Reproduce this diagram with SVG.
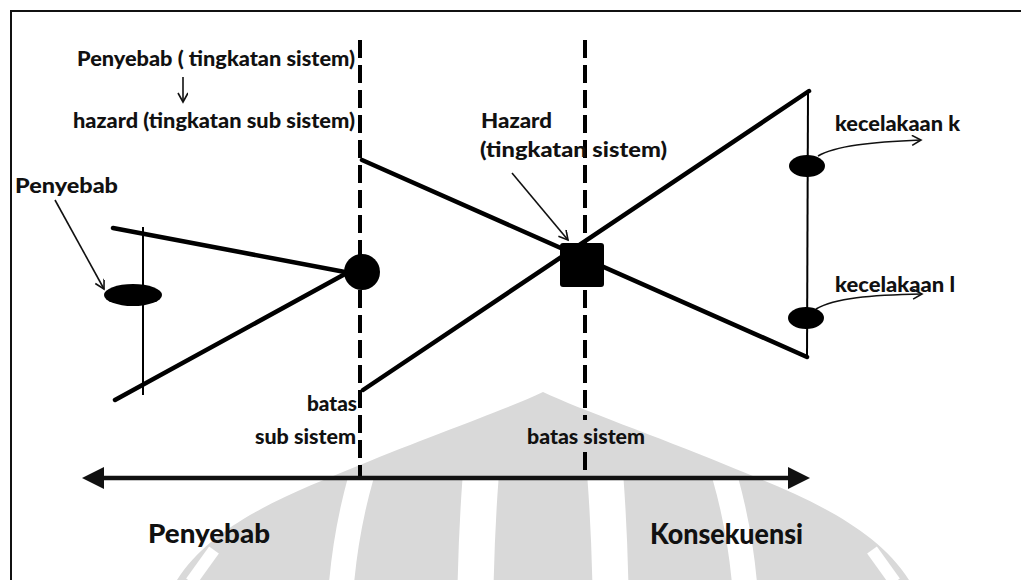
<svg xmlns="http://www.w3.org/2000/svg" width="1021" height="580" viewBox="0 0 1021 580">
<style>
  .lbl { font-family: Lato, "Open Sans", "Liberation Sans", sans-serif; font-weight: 900; fill: #111; }
  .thick { stroke: #000; stroke-width: 4.5; fill: none; stroke-linecap: round; }
  .thin { stroke: #000; stroke-width: 2; fill: none; }
  .dash { stroke: #000; stroke-width: 4; fill: none; stroke-dasharray: 18 7; }
  .lead { stroke: #111; stroke-width: 1.6; fill: none; }
  .wm { fill: #d9d9d9; }
  .wmcut { fill: none; stroke: #fff; }
</style>
<defs>
  <marker id="ah" markerUnits="userSpaceOnUse" markerWidth="24" markerHeight="24" refX="0" refY="12" orient="auto-start-reverse">
    <path d="M0,1 L22,12 L0,23 Z" fill="#111"/>
  </marker>
  <marker id="oa" markerUnits="userSpaceOnUse" markerWidth="12" markerHeight="12" refX="10" refY="5" orient="auto">
    <path d="M1,0 L10,5 L1,10" fill="none" stroke="#111" stroke-width="1.6"/>
  </marker>
  <clipPath id="wmclip"><rect x="0" y="480" width="1021" height="100"/></clipPath>
</defs>
<rect width="1021" height="580" fill="#fff"/>

<!-- watermark -->
<g id="watermark">
  <path class="wm" d="M177,580 C215,520 300,490 360,465 C430,436 505,410 543,392 C581,410 656,436 726,465 C786,490 871,520 909,580 Z"/>
  <g clip-path="url(#wmclip)">
    <ellipse class="wmcut" cx="543" cy="640" rx="204" ry="360" stroke-width="25"/>
    <ellipse class="wmcut" cx="543" cy="640" rx="68" ry="400" stroke-width="36"/>
    <line class="wmcut" x1="872" y1="550" x2="895" y2="582" stroke-width="12"/>
    <line class="wmcut" x1="214" y1="550" x2="191" y2="582" stroke-width="12"/>
  </g>
</g>

<!-- frame -->
<g id="frame">
  <path d="M11,580 L11,11 L1021,11" fill="none" stroke="#111" stroke-width="2"/>
</g>

<!-- connectors -->
<g id="connectors">
  <line class="dash" x1="360" y1="40" x2="360" y2="480"/>
  <line class="dash" x1="585" y1="40" x2="585" y2="420"/>
  <line class="dash" x1="585" y1="452" x2="585" y2="474"/>
  <line x1="104" y1="478" x2="788" y2="478" stroke="#111" stroke-width="4.5" marker-start="url(#ah)" marker-end="url(#ah)"/>
  <line class="lead" x1="183" y1="77" x2="183" y2="102" marker-end="url(#oa)"/>
  <path class="lead" d="M55,200 Q80,245 104,289" marker-end="url(#oa)"/>
  <path class="lead" d="M512,173 L568,240" marker-end="url(#oa)"/>
  <path class="lead" d="M818,156 C835,146 870,142 921,140" marker-end="url(#oa)"/>
  <path class="lead" d="M816,309 C835,298 870,295 922,294" marker-end="url(#oa)"/>
</g>

<!-- left bow (sub system) -->
<g id="left-bow">
  <line class="thick" x1="113" y1="228" x2="345" y2="272"/>
  <line class="thick" x1="115" y1="400" x2="345" y2="274"/>
  <line class="thin" x1="143" y1="227" x2="143" y2="395"/>
</g>
<g id="cause-ellipse">
  <ellipse cx="133" cy="295" rx="29" ry="11" fill="#000"/>
</g>
<g id="subsystem-hazard">
  <circle cx="362" cy="272" r="18" fill="#000"/>
</g>

<!-- right bow (system) -->
<g id="right-bow">
  <line class="thick" x1="362" y1="160" x2="807" y2="357"/>
  <line class="thick" x1="363" y1="390" x2="809" y2="91"/>
  <line class="thin" x1="808" y1="91" x2="807" y2="358" stroke-width="2.5"/>
</g>
<g id="system-hazard">
  <rect x="560" y="243" width="44" height="44" rx="3" fill="#000"/>
</g>
<g id="accident-k">
  <ellipse cx="807" cy="166" rx="18" ry="11" fill="#000"/>
</g>
<g id="accident-l">
  <ellipse cx="806" cy="318" rx="18" ry="11" fill="#000"/>
</g>

<!-- labels -->
<g id="label-penyebab-sistem"><text class="lbl" x="77" y="66" font-size="21" textLength="278" lengthAdjust="spacingAndGlyphs">Penyebab ( tingkatan sistem)</text></g>
<g id="label-hazard-subsistem"><text class="lbl" x="73" y="128" font-size="21" textLength="282" lengthAdjust="spacingAndGlyphs">hazard (tingkatan sub sistem)</text></g>
<g id="label-penyebab-left"><text class="lbl" x="15" y="193" font-size="21" textLength="103" lengthAdjust="spacingAndGlyphs">Penyebab</text></g>
<g id="label-hazard-sistem">
  <text class="lbl" x="481" y="128" font-size="21" textLength="71" lengthAdjust="spacingAndGlyphs">Hazard</text>
  <text class="lbl" x="480" y="157" font-size="21" textLength="187" lengthAdjust="spacingAndGlyphs">(tingkatan sistem)</text>
</g>
<g id="label-kecelakaan-k"><text class="lbl" x="835" y="131" font-size="20" textLength="125" lengthAdjust="spacingAndGlyphs">kecelakaan k</text></g>
<g id="label-kecelakaan-l"><text class="lbl" x="835" y="292" font-size="20" textLength="120" lengthAdjust="spacingAndGlyphs">kecelakaan l</text></g>
<g id="label-batas-subsistem">
  <text class="lbl" x="307" y="411" font-size="20" textLength="50" lengthAdjust="spacingAndGlyphs">batas</text>
  <text class="lbl" x="255" y="444" font-size="20" textLength="101" lengthAdjust="spacingAndGlyphs">sub sistem</text>
</g>
<g id="label-batas-sistem"><text class="lbl" x="527" y="444" font-size="20" textLength="118" lengthAdjust="spacingAndGlyphs">batas sistem</text></g>
<g id="label-penyebab-bottom"><text class="lbl" x="148" y="543" font-size="27" textLength="122" lengthAdjust="spacingAndGlyphs">Penyebab</text></g>
<g id="label-konsekuensi"><text class="lbl" x="650" y="544" font-size="28" textLength="153" lengthAdjust="spacingAndGlyphs">Konsekuensi</text></g>
</svg>
